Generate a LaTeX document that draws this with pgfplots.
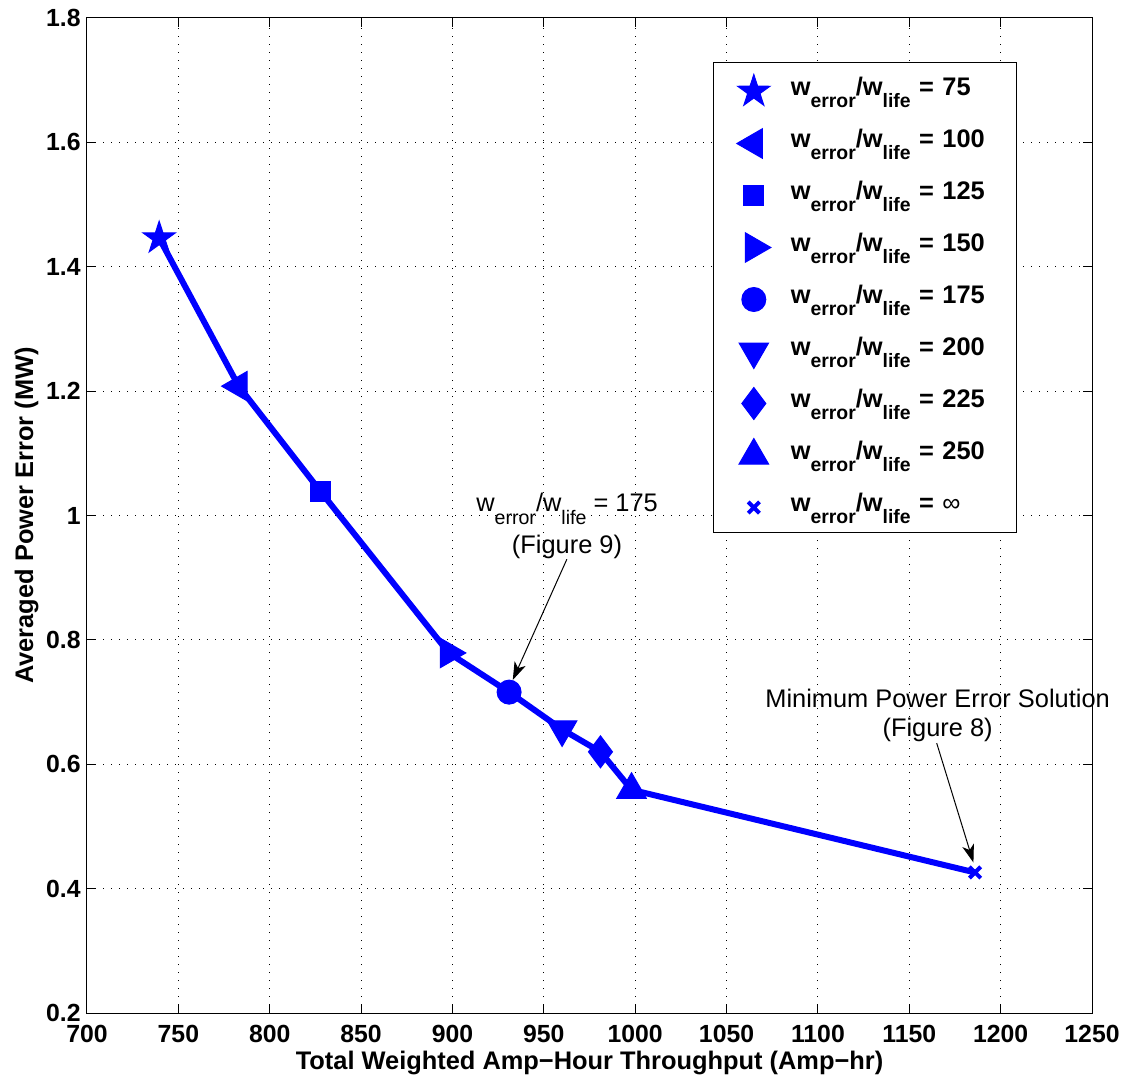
\documentclass[border=0pt]{standalone}
\usepackage{fontspec}
\setmainfont{Liberation Sans}
\usepackage{pgfplots}
\pgfplotsset{compat=1.18}
\usetikzlibrary{arrows.meta}

\definecolor{mblue}{RGB}{0,0,255}

% filled five-pointed star (pentagram) mark
\pgfdeclareplotmark{fstar}{%
  \pgfpathmoveto{\pgfqpointpolar{90}{\pgfplotmarksize}}%
  \pgfpathlineto{\pgfqpointpolar{126}{0.382\pgfplotmarksize}}%
  \pgfpathlineto{\pgfqpointpolar{162}{\pgfplotmarksize}}%
  \pgfpathlineto{\pgfqpointpolar{198}{0.382\pgfplotmarksize}}%
  \pgfpathlineto{\pgfqpointpolar{234}{\pgfplotmarksize}}%
  \pgfpathlineto{\pgfqpointpolar{270}{0.382\pgfplotmarksize}}%
  \pgfpathlineto{\pgfqpointpolar{306}{\pgfplotmarksize}}%
  \pgfpathlineto{\pgfqpointpolar{342}{0.382\pgfplotmarksize}}%
  \pgfpathlineto{\pgfqpointpolar{18}{\pgfplotmarksize}}%
  \pgfpathlineto{\pgfqpointpolar{54}{0.382\pgfplotmarksize}}%
  \pgfpathclose\pgfusepathqfillstroke}

% w_error / w_life with sized, lowered subscripts: #1 subscript size, #2 drop
\newcommand{\wratio}[2]{w\raisebox{-#2}{\fontsize{#1}{#1}\selectfont error}/w\raisebox{-#2}{\fontsize{#1}{#1}\selectfont life}}
\newcommand{\lw}{\wratio{9.7pt}{5.8pt}}

\begin{document}
\begin{tikzpicture}
\begin{axis}[
  at={(0pt,0pt)}, anchor=south west,
  scale only axis, width=502.5pt, height=497.5pt,
  xmin=700, xmax=1250, ymin=0.2, ymax=1.8,
  xtick={700,750,800,850,900,950,1000,1050,1100,1150,1200,1250},
  ytick={0.2,0.4,0.6,0.8,1.0,1.2,1.4,1.6,1.8},
  scaled ticks=false,
  /pgf/number format/1000 sep={},
  /pgf/number format/assume math mode=true,
  tick align=inside, tick pos=both,
  major tick length=4.5pt,
  every tick/.style={black, line width=0.5pt},
  axis line style={black, line width=0.5pt},
  grid=major,
  major grid style={black, line width=0.5pt, dash pattern=on 0.5pt off 3.5pt},
  tick label style={font=\fontsize{12.4}{14}\selectfont\bfseries},
  xticklabel style={anchor=north, inner sep=0pt, yshift=-6pt},
  yticklabel style={anchor=east, inner sep=0pt, xshift=-3pt},
  label style={font=\fontsize{12.7}{14}\selectfont\bfseries},
  xlabel={Total Weighted Amp\textminus Hour Throughput (Amp\textminus hr)},
  ylabel={Averaged Power Error (MW)},
  xlabel style={at={(axis description cs:0.5,-0.0563)}, anchor=base},
  ylabel style={at={(axis description cs:-0.0537,0.5)}, anchor=base, rotate=0},
  clip=false,
  legend style={
    at={(0.6232,0.9561)}, anchor=north west,
    draw=black, line width=0.5pt, fill=white,
    inner xsep=11.5pt, inner ysep=0.5pt,
    column sep=10pt, row sep=0pt,
    font=\fontsize{12.7}{14}\selectfont\bfseries,
    nodes={inner sep=0pt, anchor=base west, text height=16.16pt,
           text depth=9.84pt, text width=101.5pt, align=left},
  },
  legend image code/.code={\draw[#1] plot coordinates {(0pt,2pt)};},
]

% trade-off curve
\addplot[mblue, line width=3pt, line join=round, forget plot] coordinates {
  (739.5,1.446) (783,1.208) (828,1.038) (898,0.779) (931,0.716)
  (960,0.656) (981,0.620) (998,0.559) (1186,0.426)
};

\addplot[mblue, only marks, mark=fstar, mark size=8.5pt,
  mark options={fill=mblue, line width=0.5pt}] coordinates {(739.5,1.446)};
\addlegendentry{\lw{} = 75}
\addplot[mblue, only marks, mark=triangle*, mark size=8.5pt,
  mark options={rotate=90, fill=mblue, line width=0.5pt}] coordinates {(783,1.208)};
\addlegendentry{\lw{} = 100}
\addplot[mblue, only marks, mark=square*, mark size=5pt,
  mark options={fill=mblue, line width=0.5pt}] coordinates {(828,1.038)};
\addlegendentry{\lw{} = 125}
\addplot[mblue, only marks, mark=triangle*, mark size=8.5pt,
  mark options={rotate=-90, fill=mblue, line width=0.5pt}] coordinates {(898,0.779)};
\addlegendentry{\lw{} = 150}
\addplot[mblue, only marks, mark=*, mark size=6pt,
  mark options={fill=mblue, line width=0.5pt}] coordinates {(931,0.716)};
\addlegendentry{\lw{} = 175}
\addplot[mblue, only marks, mark=triangle*, mark size=8.5pt,
  mark options={rotate=180, fill=mblue, line width=0.5pt}] coordinates {(960,0.656)};
\addlegendentry{\lw{} = 200}
\addplot[mblue, only marks, mark=diamond*, mark size=8pt,
  mark options={fill=mblue, line width=0.5pt}] coordinates {(981,0.620)};
\addlegendentry{\lw{} = 225}
\addplot[mblue, only marks, mark=triangle*, mark size=8.5pt,
  mark options={fill=mblue, line width=0.5pt}] coordinates {(998,0.559)};
\addlegendentry{\lw{} = 250}
\addplot[mblue, only marks, mark=x, mark size=4pt,
  mark options={line width=2pt}] coordinates {(1186,0.426)};
\addlegendentry{\lw{} = {\mdseries ∞}}

% annotations
\node[anchor=base, font=\fontsize{12.7}{14}\selectfont] at (axis cs:962.7,1.0057)
  {\wratio{9.8pt}{6.5pt} = 175};
\node[anchor=base, font=\fontsize{12.7}{14}\selectfont] at (axis cs:962.7,0.9397)
  {(Figure 9)};
\draw[-{Stealth[length=9pt,width=6pt,inset=2.5pt]}, line width=0.5pt, black]
  (axis cs:962.6,0.9296) -- (axis cs:933.0,0.7355);

\node[anchor=base, font=\fontsize{12.7}{14}\selectfont] at (axis cs:1165.5,0.6916)
  {Minimum Power Error Solution};
\node[anchor=base, font=\fontsize{12.7}{14}\selectfont] at (axis cs:1165.5,0.6443)
  {(Figure 8)};
\draw[-{Stealth[length=9pt,width=6pt,inset=2.5pt]}, line width=0.5pt, black]
  (axis cs:1165.0,0.634) -- (axis cs:1185.1,0.442);
\end{axis}
\pgfresetboundingbox
\path[use as bounding box] (-43.5pt,-32.5pt) rectangle (520pt,506.5pt);
\end{tikzpicture}
\end{document}
